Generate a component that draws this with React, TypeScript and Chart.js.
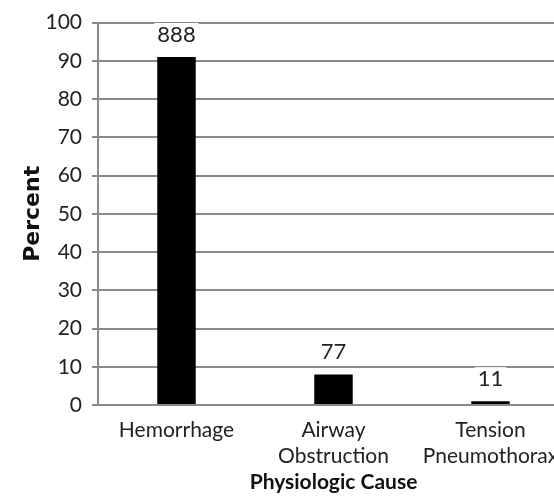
import React, { useEffect, useRef } from "react";
import { Chart, registerables } from "chart.js";

Chart.register(...registerables);

const categories: string[][] = [["Hemorrhage"], ["Airway", "Obstruction"], ["Tension", "Pneumothorax"]];
const percentValues: number[] = [91, 8, 1];
const barLabels: string[] = ["888", "77", "11"];
const yTicks: number[] = [0, 10, 20, 30, 40, 50, 60, 70, 80, 90, 100];
const yTitle = "Percent";
const xTitle = "Physiologic Cause";

const FONT = "Lato, 'DejaVu Sans', sans-serif";

const barLabelPlugin = {
  id: "barLabelPlugin",
  afterDatasetsDraw(chart: any) {
    const ctx = chart.ctx;
    const meta = chart.getDatasetMeta(0);
    ctx.save();
    ctx.font = `22px ${FONT}`;
    ctx.textAlign = "center";
    ctx.textBaseline = "alphabetic";
    meta.data.forEach((bar: any, i: number) => {
      const text = barLabels[i];
      const w = ctx.measureText(text).width;
      const yb = bar.y - 15;
      ctx.fillStyle = "#ffffff";
      ctx.fillRect(bar.x - w / 2 - 3, yb - 19, w + 6, 21);
      ctx.fillStyle = "#222222";
      ctx.fillText(text, bar.x, yb);
    });
    ctx.restore();
  },
};

export default function App() {
  const ref = useRef<HTMLCanvasElement>(null);
  useEffect(() => {
    if (!ref.current) return;
    const chart = new Chart(ref.current, {
      type: "bar",
      data: {
        labels: categories,
        datasets: [
          {
            data: percentValues,
            backgroundColor: "#000000",
            borderWidth: 0,
            barPercentage: 0.245,
            categoryPercentage: 1,
          },
        ],
      },
      options: {
        animation: false,
        responsive: false,
        maintainAspectRatio: false,
        layout: { padding: { top: 16, right: 11, left: 0, bottom: 8 } },
        plugins: { legend: { display: false }, tooltip: { enabled: false } },
        scales: {
          x: {
            afterFit: (scale: any) => {
              scale.height = 90;
            },
            grid: { display: false, drawTicks: false },
            border: { display: true, color: "#8a8a8a", width: 2 },
            ticks: {
              color: "#222222",
              font: { family: FONT, size: 21, lineHeight: 1.25 },
              maxRotation: 0,
              autoSkip: false,
              padding: 12,
            },
            title: {
              display: true,
              text: xTitle,
              color: "#111111",
              font: { family: FONT, size: 21, weight: "bold" },
              padding: { top: 0, bottom: 0 },
            },
          },
          y: {
            min: 0,
            max: 100,
            afterBuildTicks: (scale: any) => {
              scale.ticks = yTicks.map((v) => ({ value: v }));
            },
            afterFit: (scale: any) => {
              scale.width = 98;
            },
            grid: { color: "#8a8a8a", lineWidth: 2, tickLength: 6, drawTicks: true },
            border: { display: true, color: "#8a8a8a", width: 2 },
            ticks: {
              color: "#222222",
              font: { family: FONT, size: 21 },
              padding: 10,
            },
            title: {
              display: true,
              text: yTitle,
              color: "#111111",
              font: { family: "'DejaVu Sans', sans-serif", size: 22, weight: "bold" },
              padding: { top: 20, bottom: 0 },
            },
          },
        },
      },
      plugins: [barLabelPlugin],
    });
    return () => chart.destroy();
  }, []);
  return (
    <div style={{ position: "fixed", left: 0, top: 0, width: 554, height: 503, overflow: "hidden", background: "#fff" }}>
      <canvas ref={ref} width={580} height={503} style={{ display: "block" }} />
    </div>
  );
}
